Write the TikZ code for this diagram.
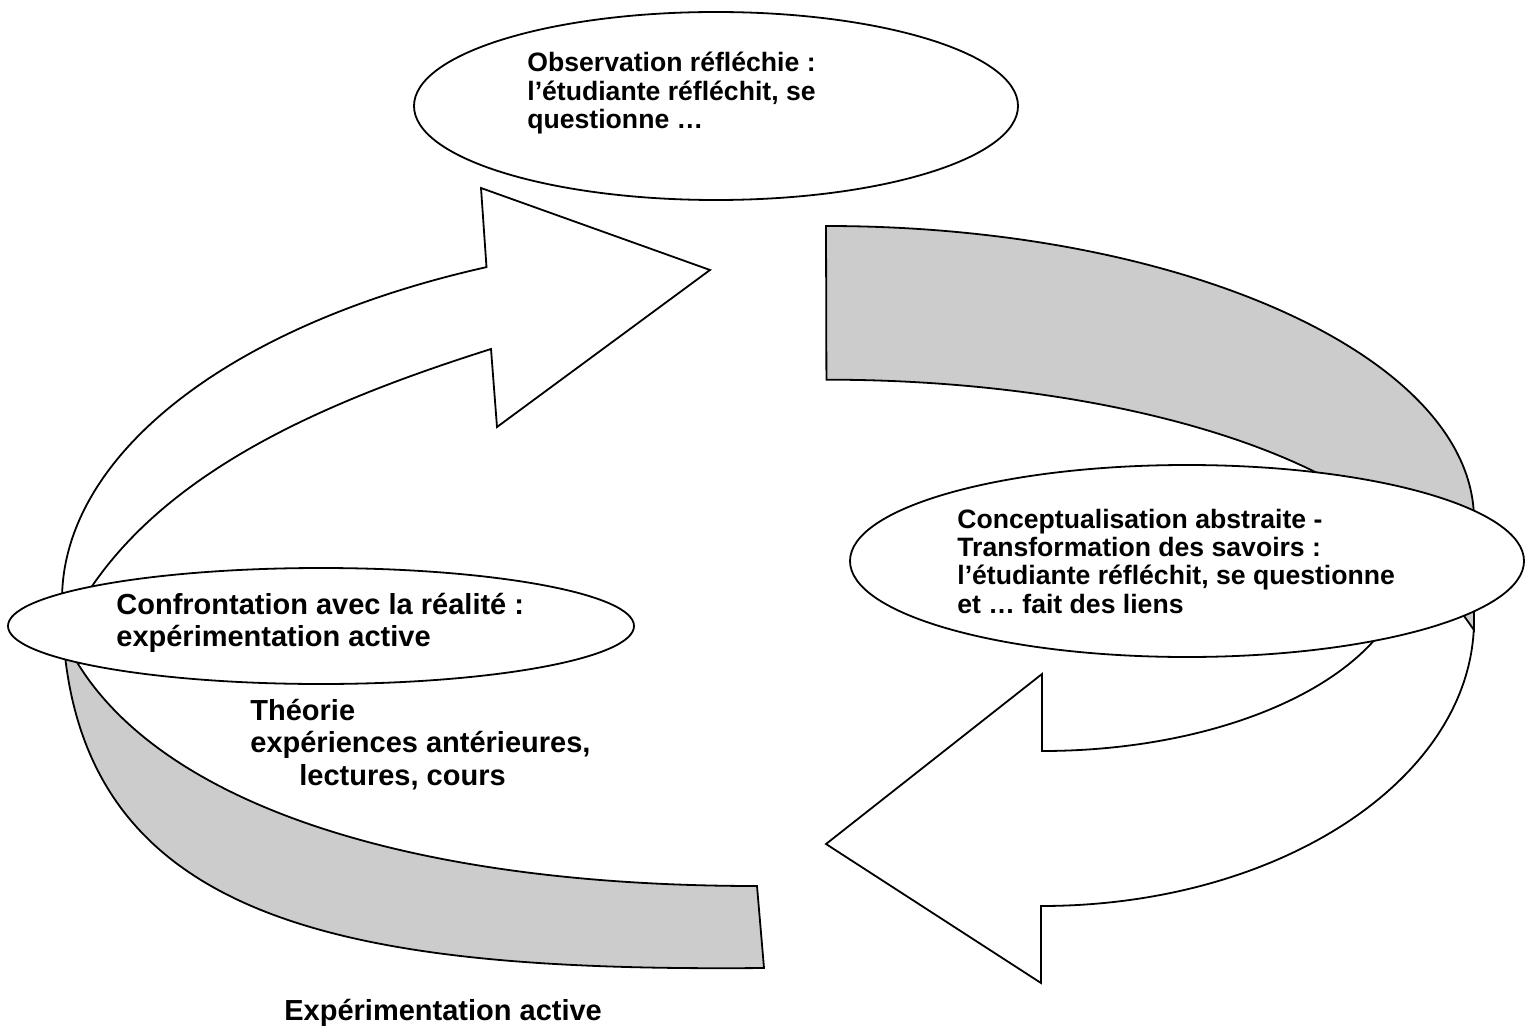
\documentclass[tikz,border=0pt]{standalone}
\usepackage{fontspec}
\setmainfont{Liberation Sans}
\usetikzlibrary{shapes.geometric}
\definecolor{ribbongray}{RGB}{204,204,204}
\begin{document}
\begin{tikzpicture}[x=0.5pt,y=-0.5pt,
  outline/.style={draw=black,line width=0.9pt,line join=miter},
  whiteface/.style={outline,fill=white},
  grayface/.style={outline,fill=ribbongray},
  bubble/.style={ellipse,draw=black,line width=0.9pt,fill=white,inner sep=0pt},
  smalltext/.style={inner sep=0pt,anchor=base west,font=\fontsize{13.3}{14.2}\selectfont\bfseries},
  largetext/.style={inner sep=0pt,anchor=base west,font=\fontsize{14.5}{16.3}\selectfont\bfseries}]
\useasboundingbox (0,0) rectangle (1530,1032);

% bottom-right white arrow
\draw[whiteface] (1474,620) arc[start angle=0, end angle=90, x radius=433, y radius=286]
  -- (1041,983) -- (826,844) -- (1042,674) -- (1042,751)
  arc[start angle=90, end angle=10, x radius=366, y radius=191] -- cycle;
% top-right gray ribbon
\draw[grayface] (826,226) arc[start angle=-90, end angle=0, x radius=648, y radius=294]
  -- (1474,630) -- (1437,578)
  arc[start angle=-10, end angle=-90, x radius=620, y radius=240] -- cycle;
% bottom-left gray ribbon
\draw[grayface] (62,600) .. controls (62,920) and (330,972) .. (764,968)
  -- (757,886) .. controls (400,886) and (150,800) .. (70,650) -- (66,600) -- cycle;
% top-left white arrow
\draw[whiteface] (62,600) arc[start angle=180, end angle=246.5, x radius=706, y radius=363]
  -- (481,188) -- (710,270) -- (497,427) -- (491,349)
  .. controls (330,400) and (160,470) .. (80,605) -- cycle;

% ellipses
\node[bubble,minimum width=302pt,minimum height=94pt] (obs) at (716,106) {};
\node[bubble,minimum width=337pt,minimum height=96pt] (concept) at (1187,561) {};
\node[bubble,minimum width=313pt,minimum height=58pt] (confront) at (321,626) {};

% texts
\node[smalltext] (obstext) at (527,72) {\begin{tabular}[t]{@{}l@{}}Observation réfléchie :\\l’étudiante réfléchit, se\\questionne …\end{tabular}};
\node[smalltext] (concepttext) at (957,528) {\begin{tabular}[t]{@{}l@{}}Conceptualisation abstraite -\\Transformation des savoirs :\\l’étudiante réfléchit, se questionne\\et … fait des liens\end{tabular}};
\node[largetext] (confronttext) at (116,614) {\begin{tabular}[t]{@{}l@{}}Confrontation avec la réalité :\\expérimentation active\end{tabular}};
\node[largetext] (theorytext) at (250,720) {\begin{tabular}[t]{@{}l@{}}Théorie\\expériences antérieures,\\\hspace{24.5pt}lectures, cours\end{tabular}};
\node[largetext] (bottomtext) at (284,1020) {Expérimentation active};
\end{tikzpicture}
\end{document}
